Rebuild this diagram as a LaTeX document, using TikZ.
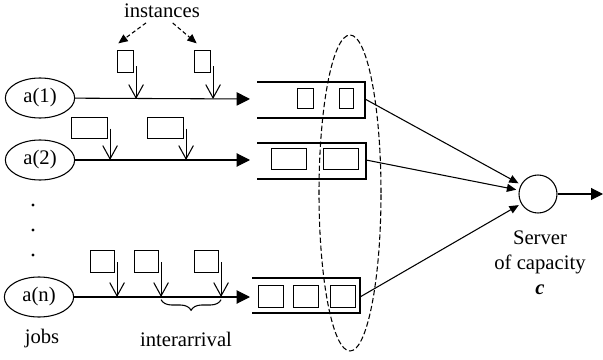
\documentclass[tikz,border=0pt]{standalone}
\usepackage{fontspec}
\setmainfont{Liberation Serif}
\usetikzlibrary{shapes.geometric,arrows.meta,decorations.pathreplacing}
\begin{document}
\begin{tikzpicture}[x=0.75pt, y=-0.75pt, line width=0.8pt, font=\fontsize{15.5}{18.75}\selectfont,
  big/.style={-{Triangle[length=10pt,width=10pt]}},
  feed/.style={-{Triangle[length=7pt,width=6pt]}},
  drop/.style={-{Straight Barb[length=10pt,width=11pt]}},
  hint/.style={dash pattern=on 3pt off 2pt, -{Triangle[length=7pt,width=6pt]}},
  job/.style={draw, ellipse, minimum width=52pt, minimum height=30pt, inner sep=0pt},
  inst/.style={draw, inner sep=0pt, anchor=north west}]
\useasboundingbox (0,0) rectangle (603,360);

\node[job] (job1) at (40,98) {a(1)};
\node[job] (job2) at (40,160) {a(2)};
\node[job] (jobn) at (39,297) {a(n)};
\foreach \y [count=\i] in {205,230,255}
{
    \node[circle, fill, inner sep=0.8pt] (dot\i) at (33,\y) {};
}

\coordinate (in1) at (250,99);
\coordinate (in2) at (250,160);
\coordinate (inn) at (250,297);
\draw[big] (job1) -- (in1);
\draw[big] (job2) -- (in2);
\draw[big] (jobn) -- (inn);

\node (lbl) at (162,11) {instances};

\foreach \x [count=\i] in {117,194}
{
    \node[inst, minimum width=12pt, minimum height=16.5pt] (ra\i) at (\x,50) {};
    \path ([xshift=1.5pt]ra\i.south east) coordinate (ta\i);
    \draw[drop] ([yshift=5pt]ta\i) -- (ta\i |- in1);
}
\foreach \x [count=\i] in {71,147}
{
    \node[inst, minimum width=27pt, minimum height=16pt] (rb\i) at (\x,117) {};
    \path ([xshift=1.5pt]rb\i.south east) coordinate (tb\i);
    \draw[drop] ([yshift=8pt]tb\i) -- (tb\i |- in2);
}
\foreach \x [count=\i] in {90,134,194}
{
    \node[inst, minimum width=18pt, minimum height=16.5pt] (rn\i) at (\x,250) {};
    \path ([xshift=1.5pt]rn\i.south east) coordinate (tn\i);
    \draw[drop] ([yshift=8pt]tn\i) -- (tn\i |- inn);
}

\draw[hint] ([xshift=-12pt]lbl.south) -- ([xshift=1pt,yshift=5pt]ra1.north west);
\draw[hint] ([xshift=8pt]lbl.south) -- ([xshift=2pt,yshift=5pt]ra2.north west);

\draw[decorate, decoration={brace, mirror, amplitude=8pt}] ([yshift=-2pt]tn2 |- inn) -- ([yshift=-2pt]tn3 |- inn);
\node (gap) at (186,339) {interarrival};
\node (jobs) at (42,339) {jobs};

% queues
\draw (257,82) -- (365,82) -- (365,118) -- (257,118);
\draw (257,143) -- (366,143) -- (366,179) -- (257,179);
\draw (252,278) -- (360,278) -- (360,313) -- (252,313);
\foreach \x/\w [count=\i] in {297/12,339/10.5}
{
    \node[inst, minimum width=\w pt, minimum height=15pt] (qa\i) at (\x,88) {};
}
\foreach \x [count=\i] in {271,323}
{
    \node[inst, minimum width=26.5pt, minimum height=16pt] (qb\i) at (\x,148) {};
}
\foreach \x [count=\i] in {258,293,330}
{
    \node[inst, minimum width=19pt, minimum height=16.5pt] (qn\i) at (\x,285) {};
}
\coordinate (out1) at (365,99);
\coordinate (out2) at (366,160);
\coordinate (outn) at (360,297);

\node[draw, ellipse, dashed, dash pattern=on 4pt off 2pt, minimum width=46.5pt, minimum height=237pt] (grp) at (350,193) {};

\node[draw, circle, minimum size=28.5pt, inner sep=0pt] (srv) at (538,194) {};
\draw[feed, shorten >=2pt] (out1) -- (srv);
\draw[feed, shorten >=2pt] (out2) -- (srv);
\draw[feed, shorten >=2pt] (outn) -- (srv);
\coordinate (exit) at (603,194);
\draw[-{Triangle[length=9pt,width=9pt]}] (srv) -- (exit);
\node[align=center] (cap) at (540,263) {Server\\of capacity\\\textbf{\textit{c}}};
\end{tikzpicture}
\end{document}
